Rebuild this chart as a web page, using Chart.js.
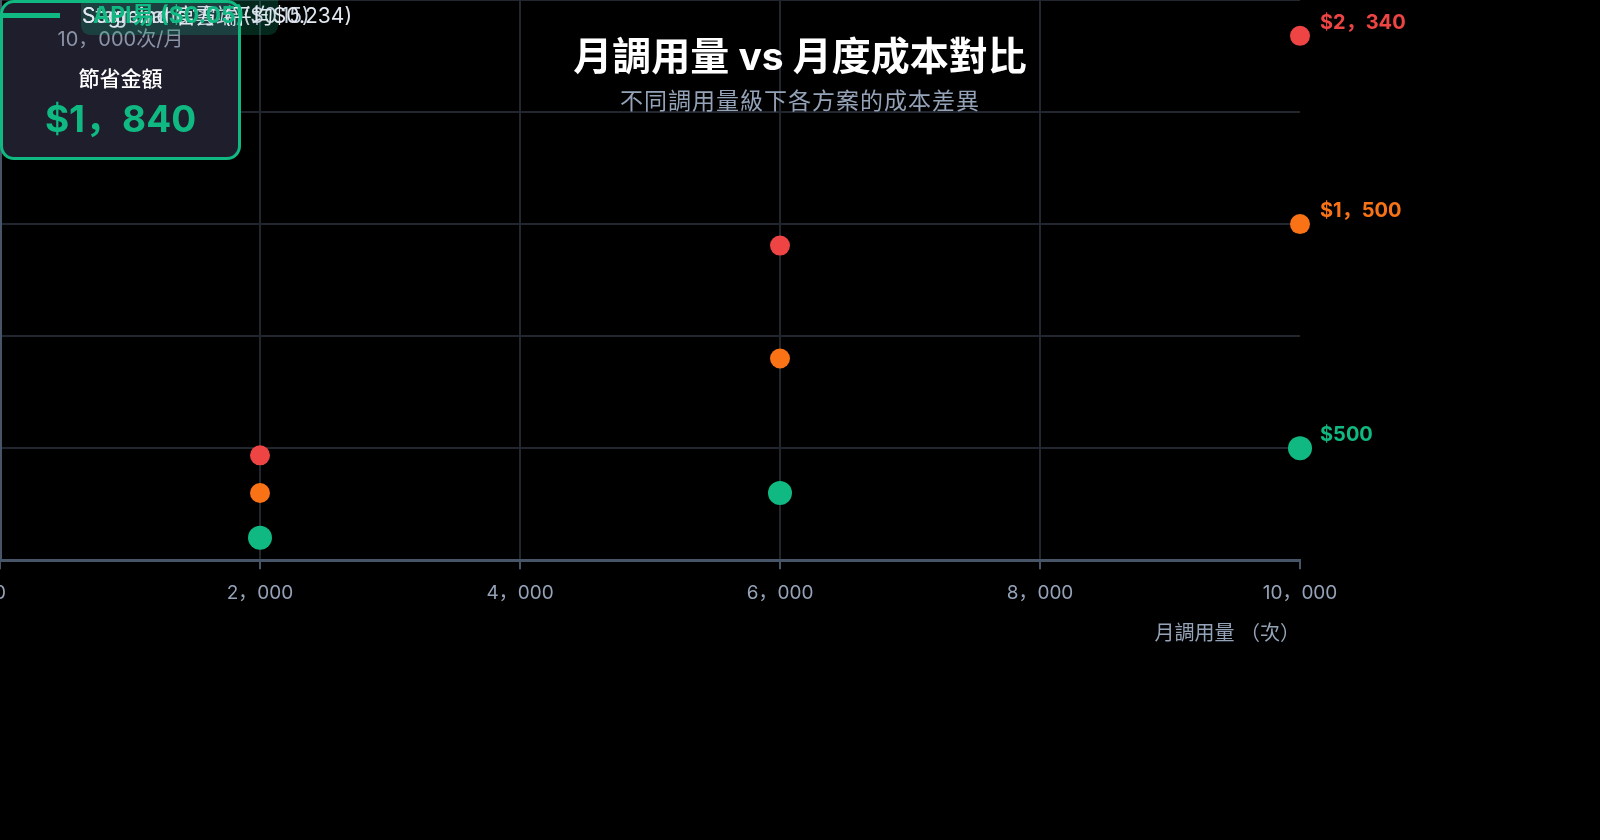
<!DOCTYPE html>
<html lang="zh-Hant">
<head>
<meta charset="utf-8">
<title>月調用量 vs 月度成本對比</title>
<script src="https://cdn.jsdelivr.net/npm/chart.js@4.4.1/dist/chart.umd.min.js"></script>
<style>
  html, body { margin: 0; padding: 0; background: #000; overflow: hidden; }
  body { width: 1600px; height: 840px; position: relative; font-family: Inter, 'Noto Sans CJK SC', sans-serif; }
  #wrap { position: absolute; left: -100px; top: 0; width: 1700px; height: 840px; }
  .title { position: absolute; left: 0; width: 1600px; top: 32px; text-align: center; color: #fff; font-size: 39px; font-weight: 700; line-height: 48px; }
  .subtitle { position: absolute; left: 0; width: 1600px; top: 86px; text-align: center; color: #94a3b8; font-size: 23px; letter-spacing: 1px; line-height: 30px; }
  .card { position: absolute; left: 0; top: 0; width: 235px; height: 154px; border: 3px solid #10b981; border-radius: 14px; background: #1e1e2d; text-align: center; }
  .card .vol { position: absolute; left: 0; right: 0; top: 23px; color: #8b93a7; font-size: 20px; line-height: 26px; }
  .card .lbl { position: absolute; left: 0; right: 0; top: 62px; color: #fff; font-size: 21px; font-weight: 500; line-height: 28px; }
  .card .amt { position: absolute; left: 0; right: 0; top: 93px; color: #10b981; font-size: 37px; font-weight: 700; line-height: 46px; }
  .lg-line { position: absolute; left: 0; top: 13px; width: 60px; height: 5px; background: #10b981; }
  .lg-box { position: absolute; left: 81px; top: -8px; width: 197px; height: 43px; border-radius: 9px; background: rgba(16,185,129,0.22); }
  .lg-item { position: absolute; left: 82px; top: 2px; font-size: 21px; line-height: 28px; white-space: nowrap; }
</style>
</head>
<body>
<div id="wrap"><canvas id="costChart"></canvas></div>

<div class="title">月調用量 vs 月度成本對比</div>
<div class="subtitle">不同調用量級下各方案的成本差異</div>

<div class="card">
  <div class="vol" lang="zh-CN">10，000次/月</div>
  <div class="lbl">節省金額</div>
  <div class="amt" lang="zh-CN">$1，840</div>
</div>

<div class="lg-line"></div>
<div class="lg-box"></div>
<div class="lg-item" style="color:#cbd5e1">Stagehand 雲端 ($0.15)</div>
<div class="lg-item" style="color:#e2e8f0">Segmind 官方 (平均$0.234)</div>
<div class="lg-item" style="left:93px;top:1px;color:#10b981;font-weight:700;font-size:23px">API易 ($0.05)</div>

<script>
const volumes = [2000, 6000, 10000];
const segmindCost = [468, 1404, 2340];
const stagehandCost = [300, 900, 1500];
const apiyiCost = [100, 300, 500];
const seriesNames = ['Segmind 官方 (平均$0.234)', 'Stagehand 雲端 ($0.15)', 'API易 ($0.05)'];

const colorVar = {
    red: '#ef4444',
    orange: '#f97316',
    green: '#10b981',
    grid: '#22272f',
    axis: '#475569',
    tick: '#94a3b8',
};

const fontFamily = "Inter, 'Noto Sans CJK SC', sans-serif";

function fmt(v) {
    return v.toLocaleString('en-US').replace(/,/g, '，');
}

function toPoints(ys) {
    return volumes.map((x, i) => ({ x: x, y: ys[i] }));
}

// labels beside the last point of each series
const endLabels = {
    id: 'endLabels',
    afterDatasetsDraw(chart) {
        const ctx = chart.ctx;
        ctx.save();
        ctx.font = 'bold 20px ' + fontFamily;
        ctx.textBaseline = 'middle';
        ctx.textAlign = 'left';
        chart.data.datasets.forEach((ds, i) => {
            const meta = chart.getDatasetMeta(i);
            const last = meta.data[meta.data.length - 1];
            const val = ds.data[ds.data.length - 1].y;
            ctx.fillStyle = ds.backgroundColor;
            ctx.fillText('$' + fmt(val), last.x + 20, last.y - 13);
        });
        ctx.restore();
    }
};

new Chart(document.getElementById('costChart'), {
    type: 'scatter',
    data: {
        datasets: [{
            label: seriesNames[0],
            data: toPoints(segmindCost),
            backgroundColor: colorVar.red,
            borderColor: colorVar.red,
            pointRadius: 10,
            borderWidth: 0,
            clip: false,
        }, {
            label: seriesNames[1],
            data: toPoints(stagehandCost),
            backgroundColor: colorVar.orange,
            borderColor: colorVar.orange,
            pointRadius: 10,
            borderWidth: 0,
            clip: false,
        }, {
            label: seriesNames[2],
            data: toPoints(apiyiCost),
            backgroundColor: colorVar.green,
            borderColor: colorVar.green,
            pointRadius: 12,
            borderWidth: 0,
            clip: false,
        }]
    },
    options: {
        responsive: true,
        maintainAspectRatio: false,
        animation: false,
        layout: {
            autoPadding: false,
            padding: { left: 100, right: 300, top: 0, bottom: 194 }
        },
        plugins: {
            legend: { display: false },
            title: { display: false },
            tooltip: { enabled: false },
        },
        scales: {
            x: {
                type: 'linear',
                min: 0,
                max: 10000,
                ticks: {
                    stepSize: 2000,
                    padding: 13,
                    color: colorVar.tick,
                    font: { family: fontFamily, size: 19 },
                    callback: (v) => fmt(v),
                },
                grid: {
                    color: (c) => c.tick && c.tick.value === 10000 ? 'rgba(0,0,0,0)' : colorVar.grid,
                    tickColor: colorVar.axis,
                    tickLength: 9,
                    lineWidth: 2,
                },
                border: { color: colorVar.axis, width: 3 },
                title: {
                    display: true,
                    text: '月調用量 （次）',
                    align: 'end',
                    color: colorVar.tick,
                    font: { family: fontFamily, size: 20 },
                    padding: { top: 4, bottom: 0 },
                },
            },
            y: {
                min: 0,
                max: 2500,
                ticks: { display: false, stepSize: 500 },
                grid: { color: colorVar.grid, drawTicks: false, lineWidth: 2 },
                border: { color: colorVar.axis, width: 3 },
            }
        }
    },
    plugins: [endLabels]
});
</script>
</body>
</html>
